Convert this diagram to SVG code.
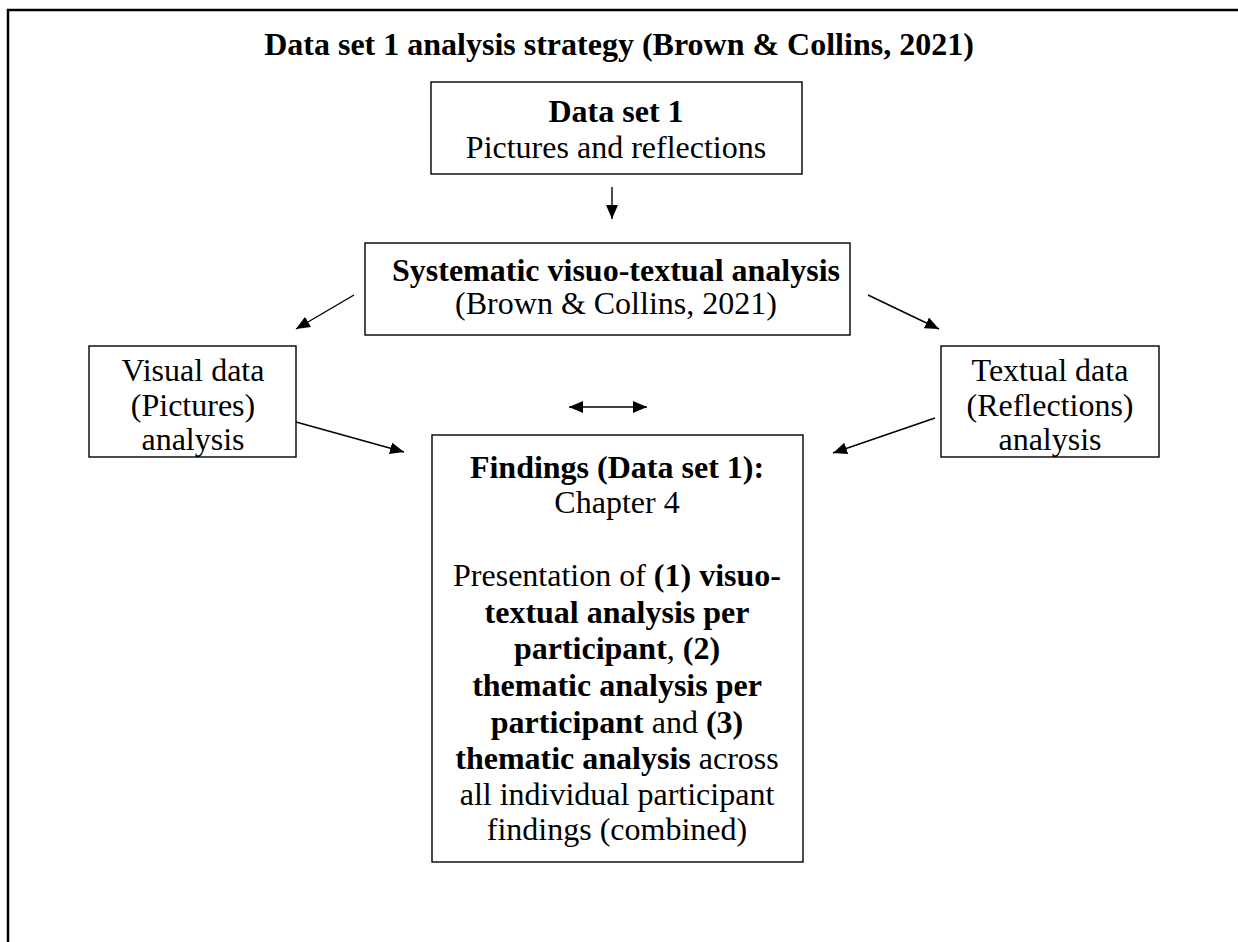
<svg xmlns="http://www.w3.org/2000/svg" width="1238" height="942" viewBox="0 0 1238 942">
  <style>
    .box { fill: #ffffff; stroke: #000000; stroke-width: 1.4; }
    .t { font-family: "Liberation Serif", "Times New Roman", serif; font-size: 32px; fill: #000000; text-anchor: middle; }
    .b { font-weight: bold; }
    .edge { stroke: #000000; stroke-width: 1.4; fill: none; marker-end: url(#head); }
  </style>
  <defs>
    <marker id="head" viewBox="0 0 14 12" refX="14" refY="6" markerWidth="14" markerHeight="12" markerUnits="userSpaceOnUse" orient="auto-start-reverse">
      <path d="M0,0 L14,6 L0,12 Z" fill="#000000"/>
    </marker>
  </defs>

  <rect width="1238" height="942" fill="#ffffff"/>
  <!-- page frame -->
  <rect x="8" y="10" width="1260" height="960" fill="none" stroke="#000000" stroke-width="2.5"/>

  <text class="t b" x="619" y="55">Data set 1 analysis strategy (Brown &amp; Collins, 2021)</text>

  <g id="dataset">
    <rect class="box" x="431" y="82" width="371" height="92"/>
    <text class="t b" x="616" y="122">Data set 1</text>
    <text class="t" x="616" y="158">Pictures and reflections</text>
  </g>

  <g id="systematic">
    <rect class="box" x="365" y="243" width="485" height="92"/>
    <text class="t b" x="616" y="281">Systematic visuo-textual analysis</text>
    <text class="t" x="616" y="314">(Brown &amp; Collins, 2021)</text>
  </g>

  <g id="visual">
    <rect class="box" x="89" y="346" width="207" height="111"/>
    <text class="t" x="193" y="381">Visual data</text>
    <text class="t" x="193" y="416">(Pictures)</text>
    <text class="t" x="193" y="450">analysis</text>
  </g>

  <g id="textual">
    <rect class="box" x="941" y="346" width="218" height="111"/>
    <text class="t" x="1050" y="381">Textual data</text>
    <text class="t" x="1050" y="416">(Reflections)</text>
    <text class="t" x="1050" y="450">analysis</text>
  </g>

  <g id="findings">
    <rect class="box" x="432" y="435" width="371" height="427"/>
    <text class="t b" x="617" y="478">Findings (Data set 1):</text>
    <text class="t" x="617" y="513">Chapter 4</text>
    <text class="t" x="617" y="586">Presentation of <tspan class="b">(1) visuo-</tspan></text>
    <text class="t b" x="617" y="623">textual analysis per</text>
    <text class="t" x="617" y="659"><tspan class="b">participant</tspan>, <tspan class="b">(2)</tspan></text>
    <text class="t b" x="617" y="696">thematic analysis per</text>
    <text class="t" x="617" y="733"><tspan class="b">participant</tspan> and <tspan class="b">(3)</tspan></text>
    <text class="t" x="617" y="769"><tspan class="b">thematic analysis</tspan> across</text>
    <text class="t" x="617" y="805">all individual participant</text>
    <text class="t" x="617" y="840">findings (combined)</text>
  </g>

  <g id="connectors">
    <line class="edge" x1="612" y1="187" x2="612" y2="219"/>
    <line class="edge" x1="354" y1="295" x2="296" y2="329"/>
    <line class="edge" x1="868" y1="295" x2="939" y2="329"/>
    <line class="edge" x1="296" y1="422" x2="404" y2="452"/>
    <line class="edge" x1="935" y1="418" x2="833" y2="453"/>
    <line class="edge" x1="569" y1="407" x2="647" y2="407" marker-start="url(#head)"/>
  </g>
</svg>
